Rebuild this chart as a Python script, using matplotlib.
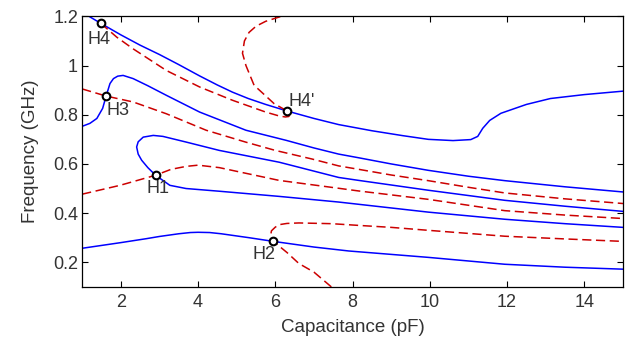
import matplotlib
matplotlib.use("Agg")
import matplotlib.pyplot as plt

plt.rcParams['font.family'] = ['Liberation Sans', 'DejaVu Sans']

# curvas azules (continuas)
azul_h4_x = [1.18, 1.48, 2.0, 2.5, 3.0, 3.5, 4.04, 4.5, 4.89, 5.3, 5.75, 6.31, 7.0, 7.64,
             8.5, 9.3, 9.96, 10.6, 11.06, 11.24, 11.37, 11.55, 11.84, 12.5, 13.12, 14.0, 15.0]
azul_h4_y = [1.20, 1.172, 1.125, 1.083, 1.045, 1.004, 0.958, 0.921, 0.892, 0.866, 0.842, 0.815, 0.785, 0.76,
             0.735, 0.715, 0.70, 0.695, 0.699, 0.712, 0.745, 0.777, 0.806, 0.842, 0.866, 0.882, 0.896]

azul_h3_x = [1.0, 1.2, 1.38, 1.53, 1.62, 1.72, 1.81, 1.92, 2.06, 2.32, 2.7, 3.18, 4.04, 5.24, 6.28,
             7.0, 7.64, 8.16, 9.0, 9.96, 11.0, 11.94, 13.5, 15.0]
azul_h3_y = [0.753, 0.765, 0.785, 0.826, 0.876, 0.927, 0.947, 0.957, 0.96, 0.947, 0.918, 0.879, 0.811, 0.737, 0.696,
             0.665, 0.64, 0.625, 0.60, 0.574, 0.55, 0.532, 0.507, 0.486]

azul_h1_x = [15.0, 13.5, 11.94, 9.96, 8.16, 7.64, 6.10, 4.55, 3.69, 3.09, 2.84, 2.58, 2.45, 2.41, 2.45,
             2.54, 2.7, 2.9, 3.27, 3.69, 4.55, 6.10, 7.64, 9.96, 11.94, 13.5, 15.0]
azul_h1_y = [0.407, 0.428, 0.452, 0.493, 0.533, 0.545, 0.607, 0.655, 0.689, 0.712, 0.716, 0.709, 0.69, 0.669, 0.64,
             0.615, 0.585, 0.554, 0.513, 0.50, 0.489, 0.468, 0.445, 0.404, 0.375, 0.357, 0.342]

azul_h2_x = [1.0, 2.0, 2.66, 3.0, 3.5, 3.8, 4.0, 4.3, 4.6, 5.32, 5.95, 7.0, 7.9, 9.96, 11.94, 13.5, 15.0]
azul_h2_y = [0.257, 0.28, 0.296, 0.305, 0.316, 0.321, 0.322, 0.321, 0.316, 0.30, 0.285, 0.262, 0.246, 0.22, 0.192, 0.18, 0.172]

# curvas rojas (discontinuas)
rojo_h4_x = [1.48, 1.9, 2.32, 3.18, 4.04, 4.89, 5.75, 6.1, 6.26, 6.35, 6.37, 6.31, 5.97, 5.45, 5.24,
             5.15, 5.2, 5.32, 5.5, 5.75, 6.15]
rojo_h4_y = [1.172, 1.115, 1.068, 0.98, 0.913, 0.859, 0.811, 0.795, 0.791, 0.793, 0.80, 0.815, 0.845, 0.92, 1.0,
             1.05, 1.1, 1.135, 1.16, 1.18, 1.20]

rojo_h3_x = [1.0, 1.62, 2.32, 3.18, 4.21, 5.25, 6.0, 6.95, 7.64, 8.16, 9.0, 9.96, 11.0, 11.94, 13.5, 15.0]
rojo_h3_y = [0.905, 0.876, 0.852, 0.804, 0.737, 0.688, 0.655, 0.62, 0.592, 0.578, 0.555, 0.532, 0.505, 0.482, 0.458, 0.439]

rojo_h1_x = [1.0, 1.98, 2.9, 3.3, 3.69, 4.0, 4.55, 6.10, 7.64, 8.16, 9.96, 11.94, 13.5, 15.0]
rojo_h1_y = [0.477, 0.513, 0.554, 0.578, 0.59, 0.595, 0.585, 0.533, 0.501, 0.49, 0.456, 0.41, 0.392, 0.378]

rojo_h2_x = [7.45, 7.0, 6.61, 6.3, 5.95, 5.88, 5.9, 6.0, 6.1, 6.3, 6.61, 7.46, 8.16, 9.0, 9.96, 11.94, 13.5, 15.0]
rojo_h2_y = [0.10, 0.16, 0.195, 0.24, 0.285, 0.31, 0.328, 0.343, 0.353, 0.358, 0.36, 0.357, 0.35, 0.342, 0.33, 0.306, 0.295, 0.285]

# puntos H
puntos = ["H4", "H3", "H4'", "H1", "H2"]
puntos_x = [1.48, 1.62, 6.31, 2.9, 5.95]
puntos_y = [1.172, 0.876, 0.815, 0.554, 0.285]

fig = plt.figure(figsize=(6.37, 3.49), dpi=100)
ax = fig.add_axes([0.129, 0.178, 0.849, 0.775])

azul = '#0000ff'
rojo = '#cc0000'
for xs, ys in [(azul_h4_x, azul_h4_y), (azul_h3_x, azul_h3_y), (azul_h1_x, azul_h1_y), (azul_h2_x, azul_h2_y)]:
    ax.plot(xs, ys, color=azul, linewidth=1.1)
for xs, ys in [(rojo_h4_x, rojo_h4_y), (rojo_h3_x, rojo_h3_y), (rojo_h1_x, rojo_h1_y), (rojo_h2_x, rojo_h2_y)]:
    ax.plot(xs, ys, color=rojo, linewidth=1.1, dashes=(6, 3))

ax.plot(puntos_x, puntos_y, linestyle='None', marker='o', markersize=5.5,
        markerfacecolor='white', markeredgecolor='black', markeredgewidth=1.5, zorder=5)

gris = '#333333'
desplaz = {"H4": (-0.05, -0.03, 'center', 'top'),
           "H3": (0.0, -0.025, 'left', 'top'),
           "H4'": (0.02, 0.005, 'left', 'bottom'),
           "H1": (0.05, -0.02, 'center', 'top'),
           "H2": (0.05, -0.02, 'right', 'top')}
for nombre, px, py in zip(puntos, puntos_x, puntos_y):
    dx, dy, ha, va = desplaz[nombre]
    ax.text(px + dx, py + dy, nombre, ha=ha, va=va, fontsize=13, color=gris)

ax.set_xlim(1, 15)
ax.set_ylim(0.1, 1.2)
ax.set_xticks([2, 4, 6, 8, 10, 12, 14])
ax.set_yticks([0.2, 0.4, 0.6, 0.8, 1.0, 1.2])
ax.set_yticklabels(["0.2", "0.4", "0.6", "0.8", "1", "1.2"])
ax.tick_params(direction='in', top=True, right=True, length=4, width=0.8,
               labelsize=13, labelcolor=gris)
ax.tick_params(axis='x', pad=5)
ax.tick_params(axis='y', pad=3)
for s in ax.spines.values():
    s.set_linewidth(0.9)
ax.set_xlabel("Capacitance (pF)", fontsize=13.5, color=gris, labelpad=6)
ax.set_ylabel("Frequency (GHz)", fontsize=13.5, color=gris, labelpad=10)

fig.savefig("out.png", dpi=100)
